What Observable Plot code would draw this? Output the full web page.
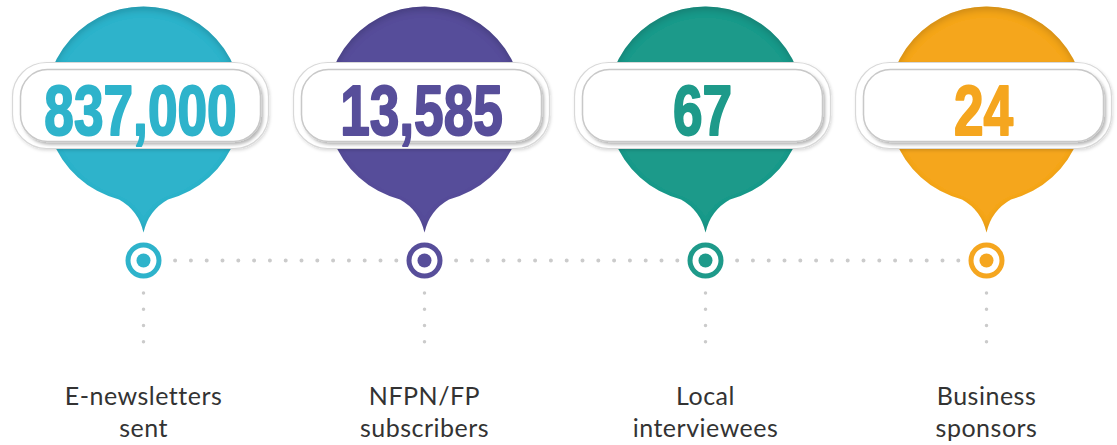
<!DOCTYPE html>
<html><head><meta charset="utf-8">
<script src="https://cdn.jsdelivr.net/npm/d3@7"></script>
<script src="https://cdn.jsdelivr.net/npm/@observablehq/plot@0.6"></script>
<style>
html,body{margin:0;padding:0;background:#fff;}
#chart{width:1117px;height:445px;}
</style></head><body><div id="chart"></div>
<script>
// ---- data ----
const categories = ["E-newsletters sent", "NFPN/FP subscribers", "Local interviewees", "Business sponsors"];
const labelLines = ["E-newsletters\nsent", "NFPN/FP\nsubscribers", "Local\ninterviewees", "Business\nsponsors"];
const values = [837000, 13585, 67, 24];
const colors = ["#2eb3cb", "#574e9a", "#1e9a8a", "#f5a61f"];

const rows = categories.map((key, i) => ({key, label: labelLines[i], value: values[i], color: colors[i]}));
const segments = rows.slice(0, -1).map((d, i) => ({from: d.key, to: rows[i + 1].key}));
const fmt = d3.format(",");
const valueTexts = values.map(fmt);

// ---- custom symbols ----
const pinSymbol = {
  draw(ctx, size) {
    const r = Math.sqrt(size / Math.PI);
    const jx = r * 0.25, jy = Math.sqrt(r * r - jx * jx), tip = r * 1.306;
    const a0 = Math.atan2(jy, jx), a1 = Math.atan2(jy, -jx);
    ctx.moveTo(-jx, jy);
    ctx.arc(0, 0, r, a1, a0, false);
    ctx.quadraticCurveTo(r * 0.05, r * 1.08, 0, tip);
    ctx.quadraticCurveTo(-r * 0.05, r * 1.08, -jx, jy);
    ctx.closePath();
  }
};
function roundRect(w, h, rad) {
  return {
    draw(ctx) {
      const x0 = -w / 2, x1 = w / 2, y0 = -h / 2, y1 = h / 2;
      ctx.moveTo(x0 + rad, y0);
      ctx.lineTo(x1 - rad, y0);
      ctx.arcTo(x1, y0, x1, y0 + rad, rad);
      ctx.lineTo(x1, y1 - rad);
      ctx.arcTo(x1, y1, x1 - rad, y1, rad);
      ctx.lineTo(x0 + rad, y1);
      ctx.arcTo(x0, y1, x0, y1 - rad, rad);
      ctx.lineTo(x0, y0 + rad);
      ctx.arcTo(x0, y0, x0 + rad, y0, rad);
      ctx.closePath();
    }
  };
}

const chart = Plot.plot({
  width: 1117,
  height: 445,
  marginTop: 0, marginBottom: 0, marginLeft: 143, marginRight: 131,
  x: {type: "point", domain: categories, padding: 0, axis: null},
  y: {domain: [0, 445], range: [0, 445], axis: null},
  color: {type: "identity"},
  style: {background: "white"},
  marks: [
    Plot.link(segments, {x1: "from", x2: "to", y1: 260, y2: 260, stroke: "#cbcbcb", strokeWidth: 4, strokeDasharray: "0 15.8", strokeLinecap: "round"}),
    Plot.ruleX(rows, {x: "key", y1: 293, y2: 358, stroke: "#cbcbcb", strokeWidth: 3.5, strokeDasharray: "0 16.25", strokeLinecap: "round"}),
    Plot.dot(rows, {x: "key", y: 260, r: 25, fill: "white"}),
    Plot.dot(rows, {x: "key", y: 104, r: 98, symbol: pinSymbol, fill: "color"}),
    Plot.dot(rows, {x: "key", y: 105, dx: -3, r: 1, symbol: roundRect(256, 86, 34), fill: "white", stroke: "#d8d8d8", strokeWidth: 1.2}),
    Plot.dot(rows, {x: "key", y: 105, dx: -3, r: 1, symbol: roundRect(240, 72, 27), fill: "white", stroke: "#c8c8c8", strokeWidth: 1.5}),
    Plot.text(rows, {x: "key", y: 112, dx: -3, text: d => fmt(d.value), fill: "color", stroke: "color", strokeWidth: 2, fontSize: 70, fontWeight: "bold", fontFamily: "'Liberation Sans', Arial, sans-serif"}),
    Plot.dot(rows, {x: "key", y: 260, r: 15.5, fill: "white", stroke: "color", strokeWidth: 5}),
    Plot.dot(rows, {x: "key", y: 260, r: 7, fill: "color"}),
    Plot.text(rows, {x: "key", y: 382, text: "label", lineAnchor: "top", lineHeight: 1.28, fontSize: 25, fontFamily: "Lato, 'Open Sans', sans-serif", fill: "#333"})
  ]
});
document.getElementById("chart").appendChild(chart);

const svg = d3.select(chart);
svg.insert("defs", ":first-child").html(
  `<filter id="innerShadow" x="-10%" y="-20%" width="125%" height="150%"><feDropShadow dx="2" dy="2.5" stdDeviation="1.8" flood-color="#000" flood-opacity="0.28"/></filter>
   <filter id="outerShadow" x="-10%" y="-20%" width="125%" height="150%"><feDropShadow dx="1" dy="1.5" stdDeviation="1.5" flood-color="#000" flood-opacity="0.15"/></filter>
   <filter id="pinInset" x="-10%" y="-10%" width="120%" height="120%">
     <feFlood flood-color="#000" flood-opacity="0.3" result="f"/>
     <feComposite in="f" in2="SourceAlpha" operator="out" result="outside"/>
     <feOffset in="outside" dy="4" result="o"/>
     <feGaussianBlur in="o" stdDeviation="3" result="b"/>
     <feComposite in="b" in2="SourceAlpha" operator="in" result="inner"/>
     <feMerge><feMergeNode in="SourceGraphic"/><feMergeNode in="inner"/></feMerge>
   </filter>`
);
svg.selectAll('g[stroke="#c8c8c8"] path').attr("filter", "url(#innerShadow)");
svg.selectAll('g[stroke="#d8d8d8"] path').attr("filter", "url(#outerShadow)");
svg.selectAll("path[fill]")
  .filter(function () { return colors.includes(this.getAttribute("fill")); })
  .attr("filter", "url(#pinInset)");
// condensed look for the big numbers
svg.selectAll("text")
  .filter(function () { return valueTexts.includes(this.textContent); })
  .attr("transform", function () { return (this.getAttribute("transform") || "") + " scale(0.76,1)"; });
svg.selectAll('g[font-family^="Lato"] text').style("letter-spacing", "0.5px");
</script>
</body></html>
